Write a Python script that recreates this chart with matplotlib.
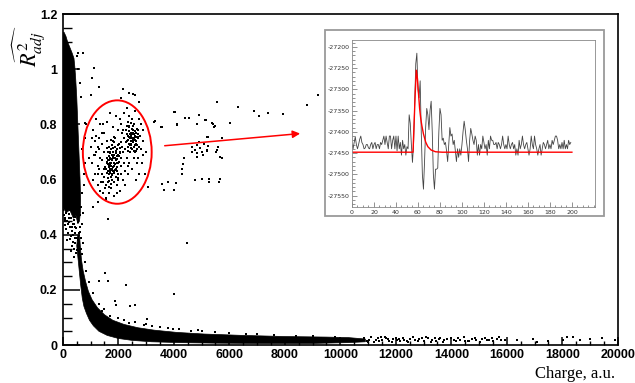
import numpy as np
import matplotlib
matplotlib.use("Agg")
import matplotlib.pyplot as plt
from matplotlib.patches import Ellipse, Polygon, Rectangle
from matplotlib.ticker import AutoMinorLocator

plt.rcParams['mathtext.fontset'] = 'stix'

# ---- main scatter: solid dense regions (outlines) ----
band_x = [0, 40, 110, 170, 250, 330, 400, 430, 460, 500, 540, 580, 620, 640, 630, 600, 540, 470, 380, 250, 120, 0]
band_y = [1.13, 1.135, 1.12, 1.10, 1.08, 1.06, 1.04, 1.01, 0.97, 0.90, 0.80, 0.70, 0.60, 0.53, 0.48, 0.45, 0.44, 0.47, 0.46, 0.49, 0.48, 0.50]

curve_x = [600, 635, 670, 730, 820, 920, 1050, 1250, 1500, 1800, 2200, 2700, 3300, 4100, 5100, 6500, 8000, 9500, 10300, 10900,
           10900, 10300, 9000, 7000, 5500, 4200, 3200, 2500, 2000, 1600, 1300, 1100, 960, 850, 760, 700, 640, 590, 540, 500, 540]
curve_y = [0.40, 0.35, 0.31, 0.27, 0.23, 0.195, 0.165, 0.135, 0.11, 0.09, 0.075, 0.063, 0.054, 0.046, 0.040, 0.035, 0.031, 0.029, 0.027, 0.022,
           0.012, 0.009, 0.006, 0.006, 0.007, 0.009, 0.012, 0.017, 0.024, 0.035, 0.05, 0.07, 0.09, 0.115, 0.14, 0.17, 0.22, 0.27, 0.32, 0.36, 0.40]

# cluster inside the red ellipse
cluster_x = [1550, 1600, 1650, 1700, 1750, 1800, 1850, 1900, 1950, 2000,
             1620, 1680, 1720, 1780, 1820, 1880, 1920, 1980, 2050, 2100,
             1580, 1640, 1700, 1760, 1840, 1900, 1960, 2020, 2080, 1660,
             1740, 1800, 1860, 1930, 1990, 1710, 1770, 1830, 1890, 1950,
             1500, 1560, 1620, 1690, 1810, 1870, 2120, 2160, 1730, 1850,
             2300, 2350, 2400, 2450, 2500, 2550, 2600, 2650, 2700, 2400,
             2480, 2520, 2580, 2620, 2680, 2350, 2430, 2470, 2560, 2640,
             2280, 2360, 2500, 2720, 2740, 2200, 2250, 2420, 2600, 2560,
             1000, 1050, 1100, 1150, 1200, 1250, 1300, 1350, 1400, 1450,
             1100, 1200, 1300, 1400, 1500, 1600, 1700, 1800, 1900, 2000,
             2100, 2200, 2300, 2400, 2600, 2800, 2900, 3000, 2850, 2750,
             2650, 2500, 2350, 2250, 2150, 2050, 1950, 1850, 1650, 1550,
             1450, 1350, 1250, 1150, 1050, 950, 1300, 1400, 1500, 2200,
             2300, 2400, 2700, 2900, 1600, 2000, 2100, 1450, 2750, 2950,
             1720, 1780, 1680, 1640, 1760, 1700, 2460, 2540, 2520, 2440]
cluster_y = [0.64, 0.66, 0.62, 0.68, 0.65, 0.70, 0.63, 0.67, 0.71, 0.66,
             0.70, 0.72, 0.61, 0.60, 0.68, 0.72, 0.64, 0.69, 0.70, 0.68,
             0.68, 0.59, 0.64, 0.69, 0.66, 0.61, 0.63, 0.73, 0.65, 0.67,
             0.71, 0.63, 0.69, 0.70, 0.62, 0.66, 0.67, 0.65, 0.68, 0.66,
             0.61, 0.58, 0.63, 0.70, 0.74, 0.75, 0.72, 0.70, 0.57, 0.59,
             0.74, 0.76, 0.73, 0.77, 0.75, 0.72, 0.76, 0.74, 0.78, 0.79,
             0.71, 0.78, 0.80, 0.73, 0.71, 0.72, 0.75, 0.74, 0.75, 0.77,
             0.78, 0.81, 0.82, 0.75, 0.72, 0.75, 0.71, 0.70, 0.70, 0.68,
             0.72, 0.66, 0.78, 0.62, 0.70, 0.58, 0.75, 0.80, 0.67, 0.55,
             0.60, 0.82, 0.64, 0.73, 0.77, 0.81, 0.84, 0.79, 0.83, 0.78,
             0.80, 0.84, 0.86, 0.83, 0.85, 0.80, 0.74, 0.70, 0.66, 0.62,
             0.60, 0.64, 0.62, 0.58, 0.60, 0.56, 0.55, 0.54, 0.55, 0.53,
             0.59, 0.56, 0.65, 0.69, 0.75, 0.68, 0.71, 0.62, 0.70, 0.66,
             0.68, 0.66, 0.68, 0.78, 0.74, 0.60, 0.62, 0.80, 0.82, 0.62,
             0.66, 0.64, 0.65, 0.67, 0.62, 0.63, 0.76, 0.74, 0.77, 0.73]

core_x = [1610, 1655, 1690, 1735, 1790, 1815, 1870, 1915, 1965, 2010, 2045, 1575, 1625, 1705, 1745, 1795, 1845, 1905, 1940, 1985,
          1590, 1645, 1715, 1765, 1825, 1880, 1935, 1970, 2030, 2070, 1675, 1725, 1775, 1855, 1895, 2090, 1535, 1605, 1655, 1745,
          2310, 2345, 2385, 2415, 2455, 2490, 2535, 2575, 2615, 2660, 2690, 2330, 2375, 2440, 2505, 2545, 2595, 2630, 2670, 2710,
          2260, 2320, 2390, 2465, 2530, 2585, 2650, 2560, 2470, 2405,
          1200, 1280, 1330, 1420, 1480, 1260, 1380, 2180, 2240, 2830, 2780, 2680, 1110, 1170, 1520, 2050, 2140, 2330, 2870, 1960]
core_y = [0.655, 0.685, 0.625, 0.675, 0.645, 0.715, 0.655, 0.695, 0.645, 0.685, 0.715, 0.665, 0.605, 0.655, 0.635, 0.685, 0.625, 0.705, 0.675, 0.725,
          0.715, 0.645, 0.695, 0.615, 0.735, 0.635, 0.685, 0.605, 0.665, 0.695, 0.595, 0.745, 0.725, 0.755, 0.655, 0.735, 0.645, 0.625, 0.575, 0.585,
          0.765, 0.745, 0.775, 0.725, 0.755, 0.785, 0.735, 0.765, 0.745, 0.785, 0.755, 0.705, 0.795, 0.715, 0.765, 0.795, 0.725, 0.755, 0.725, 0.765,
          0.735, 0.795, 0.755, 0.805, 0.745, 0.775, 0.705, 0.705, 0.725, 0.765,
          0.76, 0.62, 0.68, 0.77, 0.64, 0.72, 0.59, 0.78, 0.63, 0.71, 0.76, 0.66, 0.69, 0.74, 0.57, 0.82, 0.77, 0.65, 0.69, 0.58]

# sparse points elsewhere
sparse_x = [540, 720, 1120, 1040, 1300, 2160, 2380, 2600, 2530, 1000,
            3300, 3560, 4000, 4110, 4400, 4540, 4900, 5150, 5400, 5440,
            5550, 6020, 6300, 6880, 7070, 7390, 7930, 8790, 9200, 2110,
            4670, 4820, 4940, 5000, 4850, 5080, 4910, 4760, 5180, 4640,
            5060, 5240, 4820, 5660, 5600, 5510, 5240, 5540, 5210, 5720,
            4340, 4310, 4280, 4370, 4760, 5000, 5270, 5270, 5620, 5680,
            3560, 3640, 3800, 4010, 4070, 3070, 4040, 4100, 3530, 3320,
            5180, 5740, 4850, 5360, 5480, 5140, 2750, 790, 1570, 1090,
            1270, 1630, 4490, 1510, 1630, 1310, 2270, 4010, 1870, 1930,
            2410, 2590, 3020, 2930, 3980, 4460, 4880,
            820, 800, 780, 760, 750, 700, 680, 650, 600, 560, 520]
sparse_y = [1.06, 1.06, 1.004, 0.97, 0.935, 0.93, 0.915, 0.906, 0.91, 0.906,
            0.81, 0.79, 0.845, 0.80, 0.822, 0.824, 0.834, 0.816, 0.80, 0.79,
            0.882, 0.807, 0.864, 0.85, 0.831, 0.84, 0.837, 0.87, 0.906, 0.897,
            0.719, 0.725, 0.713, 0.70, 0.695, 0.731, 0.737, 0.707, 0.709, 0.70,
            0.689, 0.721, 0.683, 0.683, 0.719, 0.70, 0.753, 0.707, 0.704, 0.68,
            0.658, 0.64, 0.622, 0.677, 0.598, 0.602, 0.604, 0.592, 0.592, 0.602,
            0.583, 0.564, 0.592, 0.564, 0.589, 0.574, 0.846, 0.797, 0.791, 0.812,
            0.753, 0.752, 0.80, 0.804, 0.794, 0.816, 0.88, 0.806, 0.535, 0.501,
            0.52, 0.459, 0.371, 0.262, 0.232, 0.232, 0.2175, 0.187, 0.16, 0.145,
            0.141, 0.145, 0.093, 0.0725, 0.06, 0.042, 0.054,
            0.80, 0.75, 0.66, 0.62, 0.58, 0.71, 0.55, 0.90, 0.95, 1.00, 1.05]

# speckled zone where the vertical band turns into the curve, plus fringe above the curve
speck_x = [35, 90, 145, 175, 230, 260, 305, 340, 372, 395, 430, 455, 480, 515, 530, 565, 590, 610, 640, 660,
           120, 200, 250, 290, 320, 360, 410, 440, 470, 505, 545, 575, 620, 680, 720, 60, 160, 280, 390, 700,
           740, 650, 610, 225, 325, 415, 500, 270, 100, 190, 20, 75, 135, 210, 350, 445, 560, 630, 350, 455,
           1300, 1500, 2000, 2600, 3000, 3500, 4200, 5000, 6000, 7000, 2200, 1100, 950, 850, 780, 700,
           1400, 1700, 2400, 3200, 3800, 4600, 5500, 6600, 7600, 8400, 9000, 9800]
speck_y = [0.47, 0.455, 0.49, 0.44, 0.475, 0.43, 0.46, 0.415, 0.48, 0.44, 0.405, 0.465, 0.425, 0.39, 0.445, 0.405, 0.37, 0.43, 0.39, 0.35,
           0.42, 0.405, 0.385, 0.395, 0.36, 0.375, 0.35, 0.37, 0.335, 0.345, 0.355, 0.325, 0.31, 0.33, 0.37, 0.435, 0.38, 0.34, 0.32, 0.44,
           0.48, 0.50, 0.47, 0.445, 0.43, 0.455, 0.48, 0.49, 0.48, 0.50, 0.49, 0.46, 0.45, 0.46, 0.44, 0.43, 0.38, 0.41, 0.40, 0.39,
           0.15, 0.13, 0.10, 0.085, 0.075, 0.065, 0.058, 0.052, 0.045, 0.042, 0.09, 0.19, 0.23, 0.27, 0.30, 0.33,
           0.125, 0.105, 0.08, 0.068, 0.062, 0.05, 0.046, 0.04, 0.037, 0.034, 0.033, 0.031]

# fragmented tail of the band at high charge
tail_x = [10800, 10950, 11100, 11200, 11350, 11500, 11600, 11750, 11900, 12000, 12150, 12300, 12450, 12600, 12700,
          12850, 13000, 13150, 13300, 13450, 13600, 13750, 13850, 14000, 14150, 14300, 14450, 14600, 14750, 14900,
          15050, 15200, 15350, 15500, 15650, 15800, 15950,
          10850, 11000, 11300, 11450, 11700, 11850, 12050, 12250, 12500, 12800, 13100, 13400, 13700, 14100, 14500,
          14850, 15300, 15700, 16360, 16940, 17480, 18020, 18160, 18630, 18990, 19420, 19890, 17100, 18400,
          11050, 11400, 11650, 12100, 12400, 12950, 13250, 13550, 14250, 14650, 15100, 15450]
tail_y = [0.020, 0.015, 0.028, 0.012, 0.024, 0.018, 0.030, 0.014, 0.022, 0.026, 0.016, 0.020, 0.012, 0.028, 0.018,
          0.022, 0.015, 0.025, 0.019, 0.013, 0.027, 0.017, 0.021, 0.024, 0.014, 0.020, 0.029, 0.016, 0.022, 0.018,
          0.012, 0.025, 0.020, 0.015, 0.023, 0.019, 0.017,
          0.026, 0.010, 0.018, 0.030, 0.021, 0.011, 0.017, 0.027, 0.022, 0.013, 0.030, 0.024, 0.012, 0.018, 0.015,
          0.026, 0.017, 0.028, 0.018, 0.022, 0.015, 0.020, 0.028, 0.017, 0.021, 0.024, 0.018, 0.012, 0.030,
          0.019, 0.013, 0.024, 0.021, 0.016, 0.027, 0.012, 0.021, 0.027, 0.013, 0.021, 0.026]

# ---- inset: waveform and fit ----
wave_x = np.arange(200)
wave_y = [-27430, -27440, -27425, -27412, -27430, -27440, -27430, -27418, -27410, -27425,
          -27430, -27440, -27438, -27430, -27430, -27438, -27440, -27430, -27425, -27440,
          -27430, -27425, -27440, -27430, -27430, -27440, -27425, -27430, -27420, -27410,
          -27430, -27410, -27425, -27440, -27410, -27410, -27440, -27420, -27410, -27440,
          -27410, -27445, -27410, -27440, -27425, -27455, -27420, -27440, -27430, -27455,
          -27435, -27440, -27360, -27380, -27430, -27472, -27430, -27330, -27240, -27215,
          -27300, -27320, -27280, -27400, -27500, -27535, -27470, -27390, -27345, -27360,
          -27395, -27350, -27328, -27400, -27500, -27535, -27488, -27488, -27485, -27400,
          -27345, -27360, -27420, -27415, -27430, -27425, -27445, -27470, -27430, -27390,
          -27410, -27405, -27430, -27420, -27445, -27470, -27440, -27460, -27440, -27455,
          -27430, -27400, -27375, -27395, -27420, -27440, -27470, -27420, -27392, -27405,
          -27420, -27430, -27410, -27420, -27455, -27430, -27455, -27430, -27440, -27410,
          -27425, -27440, -27430, -27455, -27420, -27440, -27410, -27420, -27420, -27430,
          -27430, -27425, -27440, -27425, -27430, -27440, -27430, -27410, -27430, -27440,
          -27430, -27440, -27410, -27430, -27440, -27430, -27425, -27440, -27430, -27455,
          -27440, -27455, -27420, -27440, -27430, -27410, -27430, -27440, -27430, -27425,
          -27440, -27455, -27440, -27410, -27430, -27440, -27410, -27430, -27440, -27455,
          -27440, -27430, -27455, -27440, -27425, -27430, -27440, -27430, -27420, -27440,
          -27430, -27440, -27420, -27430, -27420, -27410, -27410, -27420, -27440, -27430,
          -27440, -27425, -27440, -27420, -27440, -27430, -27440, -27420, -27430, -27425]

fit_x = [0, 55.5, 56.5, 57.5, 58.5, 59.5, 60.5, 61.5, 62.5, 63.5, 65, 67, 69, 72, 76, 82, 200]
fit_y = [-27448, -27448, -27380, -27310, -27255, -27275, -27310, -27345, -27368, -27385,
         -27405, -27424, -27435, -27443, -27447, -27448, -27448]

xtick_vals = [0, 2000, 4000, 6000, 8000, 10000, 12000, 14000, 16000, 18000, 20000]
ytick_vals = [0, 0.2, 0.4, 0.6, 0.8, 1.0, 1.2]
ytick_labels = ["0", "0.2", "0.4", "0.6", "0.8", "1", "1.2"]
inset_yticks = [-27550, -27500, -27450, -27400, -27350, -27300, -27250, -27200]
inset_xticks = [0, 20, 40, 60, 80, 100, 120, 140, 160, 180, 200]

fig = plt.figure(figsize=(6.35, 3.83), dpi=100)
ax = fig.add_axes([0.099, 0.099, 0.874, 0.864])

ax.add_patch(Polygon(np.column_stack([band_x, band_y]), closed=True, facecolor='black', edgecolor='black', lw=0.5))
ax.add_patch(Polygon(np.column_stack([curve_x, curve_y]), closed=True, facecolor='black', edgecolor='black', lw=0.5))
ax.scatter(cluster_x, cluster_y, s=2.6, marker='s', c='black', linewidths=0)
ax.scatter(core_x, core_y, s=2.6, marker='s', c='black', linewidths=0)
ax.scatter(sparse_x, sparse_y, s=2.2, marker='s', c='black', linewidths=0)
ax.scatter(speck_x, speck_y, s=3.2, marker='s', c='black', linewidths=0)
ax.scatter(tail_x, tail_y, s=3.5, marker='s', c='black', linewidths=0)

ax.add_patch(Ellipse((1960, 0.70), 2480, 0.375, fill=False, edgecolor='red', lw=1.4))
ax.annotate('', xy=(8650, 0.768), xytext=(3570, 0.722),
            arrowprops=dict(arrowstyle='-|>', color='red', lw=1.1, mutation_scale=11))

ax.set_xlim(0, 20000)
ax.set_ylim(0, 1.2)
ax.set_xticks(xtick_vals)
ax.set_xticklabels([str(v) for v in xtick_vals])
ax.set_yticks(ytick_vals)
ax.set_yticklabels(ytick_labels)
ax.xaxis.set_minor_locator(AutoMinorLocator(4))
ax.yaxis.set_minor_locator(AutoMinorLocator(4))
ax.tick_params(axis='y', which='major', direction='in', length=12, width=1.1, pad=4)
ax.tick_params(axis='y', which='minor', direction='in', length=6.5, width=1.0)
ax.tick_params(axis='x', which='major', direction='in', length=6, width=1.1, pad=3)
ax.tick_params(axis='x', which='minor', direction='in', length=3, width=1.0)
for lab in ax.get_xticklabels() + ax.get_yticklabels():
    lab.set_fontfamily('Liberation Sans')
    lab.set_fontweight('bold')
    lab.set_fontsize(9)
for sp in ax.spines.values():
    sp.set_linewidth(1.2)

fig.text(0.968, 0.013, "Charge, a.u.", ha='right', va='baseline',
         fontsize=12, family='Liberation Serif')
fig.text(0.047, 0.88, r'$\widehat{R^2_{adj}}$', rotation=90, ha='center', va='center', fontsize=16)

# inset frame and axes
fig.add_artist(Rectangle((0.5118, 0.436), 0.4394, 0.4856, transform=fig.transFigure,
                         facecolor='white', edgecolor='#9a9a9a', lw=1.3, zorder=2))
ins = fig.add_axes([0.5543, 0.4595, 0.3827, 0.436])
ins.set_zorder(3)
ins.plot(wave_x, wave_y, color='#444444', lw=0.6)
ins.plot(fit_x, fit_y, color='red', lw=1.0)
ins.set_xlim(0, 221)
ins.set_ylim(-27577, -27184)
ins.set_xticks(inset_xticks)
ins.set_xticklabels([str(v) for v in inset_xticks])
ins.set_yticks(inset_yticks)
ins.set_yticklabels([str(v) for v in inset_yticks])
ins.xaxis.set_minor_locator(AutoMinorLocator(4))
ins.yaxis.set_minor_locator(AutoMinorLocator(5))
ins.tick_params(which='major', direction='in', length=3.5, width=0.5, color='#666666',
                labelsize=4.5, labelcolor='#333333', pad=2)
ins.tick_params(which='minor', direction='in', length=1.8, width=0.5, color='#666666')
for sp in ins.spines.values():
    sp.set_linewidth(0.6)
    sp.set_color('#888888')

fig.savefig("out.png", dpi=100)
